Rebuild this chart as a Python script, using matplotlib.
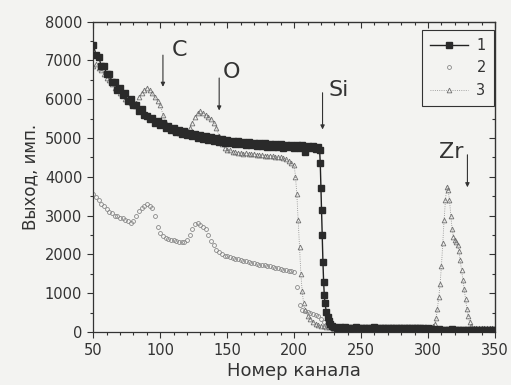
import matplotlib
matplotlib.use("Agg")
import matplotlib.pyplot as plt
import numpy as np

# series 1: squares + line (drops at Si edge)
ch1 = list(range(50, 219, 2)) + [219, 219.5, 220, 220.5, 221, 221.5, 222, 222.5, 223, 224, 225, 226, 227, 228] + list(range(230, 351, 2))
y1 = [7400, 7150, 7100, 6850, 6850, 6650, 6650, 6450, 6450, 6250, 6300, 6100, 6150, 5950, 6000, 5850, 5850,
      5700, 5750, 5600, 5580, 5480, 5520, 5400, 5430, 5330, 5380, 5250, 5300, 5200, 5250, 5150, 5200, 5100,
      5180, 5080, 5140, 5050, 5100, 5000, 5080, 4980, 5050, 4950, 5020, 4930, 4990, 4900, 4970, 4880, 4950,
      4870, 4930, 4850, 4920, 4840, 4900, 4830, 4890, 4820, 4880, 4800, 4870, 4790, 4860, 4780, 4850, 4770,
      4840, 4760, 4840, 4750, 4830, 4760, 4820, 4750, 4820, 4740, 4810, 4650, 4800, 4740, 4800, 4730, 4780,
      4700, 4350, 3700, 3150, 2500, 1800, 1300, 950, 750, 520, 380, 280, 200, 150,
      120, 110, 130, 100, 120, 90, 110, 100, 120, 95, 110, 100, 90, 110, 100, 120, 95, 105, 90, 110,
      100, 95, 110, 90, 100, 105, 95, 110, 90, 100, 95, 105, 90, 100, 80, 90, 70, 80, 60, 70,
      60, 50, 60, 50, 70, 50, 60, 50, 60, 55, 50, 60, 50, 55, 60, 50, 55, 50, 60, 50, 55]

# series 2: small circles (lower curve)
ch2 = list(range(50, 351, 2))
y2 = [3550, 3480, 3400, 3300, 3260, 3180, 3100, 3060, 3000, 2990, 2950, 2930, 2900, 2870, 2820, 2850, 2980,
      3120, 3200, 3260, 3290, 3250, 3200, 3000, 2700, 2550, 2480, 2420, 2400, 2380, 2360, 2350, 2330, 2320,
      2330, 2380, 2500, 2650, 2780, 2800, 2760, 2700, 2650, 2500, 2350, 2250, 2120, 2050, 2000, 1970, 1950,
      1930, 1900, 1880, 1870, 1850, 1830, 1820, 1800, 1790, 1770, 1760, 1740, 1730, 1720, 1700, 1690, 1670,
      1660, 1640, 1630, 1610, 1600, 1580, 1570, 1550, 1150, 700, 560, 530, 510, 490, 470, 440, 400, 330, 250,
      180, 120, 80, 50, 40, 45, 35, 40, 45, 40, 35, 40, 45, 40, 35, 40, 40, 45, 35, 40, 45, 40, 35, 40, 45,
      40, 35, 40, 45, 40, 35, 40, 45, 40, 35, 40, 45, 40, 35, 40, 45, 40, 35, 40, 45, 40, 35, 40, 45, 40,
      35, 40, 45, 40, 35, 40, 45, 40, 35, 40, 45, 40, 35, 40]

# series 3: triangles (C, O, Zr peaks)
ch3 = list(range(50, 201, 2)) + [201, 202, 203, 204, 205, 206, 207, 208] + list(range(210, 305, 2)) + \
      list(range(305, 333)) + list(range(334, 351, 2))
y3 = [6850, 6900, 6800, 6750, 6650, 6550, 6500, 6400, 6300, 6250, 6150, 6100, 6000, 5950, 5900, 5850, 5900,
      6050, 6150, 6250, 6300, 6250, 6150, 6050, 5950, 5850, 5600, 5400, 5250, 5200, 5180, 5150, 5120, 5100,
      5100, 5120, 5250, 5400, 5550, 5650, 5700, 5650, 5600, 5550, 5500, 5400, 5250, 5050, 4850, 4750, 4700,
      4680, 4650, 4640, 4620, 4620, 4600, 4610, 4590, 4580, 4600, 4570, 4560, 4570, 4550, 4540, 4550, 4530,
      4520, 4500, 4500, 4480, 4450, 4400, 4350, 4300,
      4000, 3550, 2900, 2200, 1500, 1050, 750, 560,
      420, 330, 260, 210, 180, 160, 150, 140, 130, 140, 120, 130, 140, 125, 135, 120, 130, 140, 125, 130,
      140, 120, 135, 130, 125, 140, 130, 120, 135, 130, 140, 125, 130, 135, 120, 130, 140, 125, 130, 135,
      120, 140, 130, 125, 135, 130, 140, 150,
      200, 350, 600, 900, 1250, 1700, 2300, 2900, 3400, 3750, 3650, 3400, 3000, 2650, 2450, 2380, 2330,
      2250, 2100, 1850, 1600, 1350, 1100, 850, 600, 400, 250, 150,
      110, 100, 90, 100, 95, 90, 100, 95, 90]

plt.rcParams["font.family"] = ["DejaVu Sans"]
fig = plt.figure(figsize=(5.11, 3.85), dpi=100)
bg = "#f3f3f1"
fig.patch.set_facecolor(bg)
ax = fig.add_axes([0.1826, 0.1377, 0.7861, 0.8059])
ax.set_facecolor(bg)
ink = "#333333"

ax.plot(ch3, y3, ls=":", lw=0.6, color="#888888", marker="^", ms=3.4, mfc="none", mec="#707070",
        mew=0.6, label="3", zorder=2)
ax.plot(ch2, y2, ls="none", marker="o", ms=2.8, mfc="none", mec="#888888", mew=0.6, label="2", zorder=2)
ax.plot(ch1, y1, ls="-", lw=1.0, color="#222222", marker="s", ms=4, mfc="#2a2a2a", mec="#2a2a2a",
        label="1", zorder=3)

ax.set_xlim(50, 350)
ax.set_ylim(0, 8000)
ax.set_xticks(range(50, 351, 50))
ax.set_xticks(range(50, 351, 10), minor=True)
ax.set_yticks(range(0, 8001, 1000))
ax.set_yticks(range(0, 8001, 500), minor=True)
ax.tick_params(which="both", direction="out", colors=ink, labelsize=10.5, width=0.8)
ax.tick_params(which="major", length=4.5)
ax.tick_params(which="minor", length=2.5)
for s in ax.spines.values():
    s.set_color(ink)
    s.set_linewidth(0.9)

top = ax.secondary_xaxis("top")
top.set_xticks(range(50, 351, 50))
top.set_xticks(range(50, 351, 10), minor=True)
top.tick_params(which="both", direction="in", labeltop=False, colors=ink, width=0.8)
top.tick_params(which="major", length=4.5)
top.tick_params(which="minor", length=2.5)
right = ax.secondary_yaxis("right")
right.set_yticks(range(0, 8001, 1000))
right.set_yticks(range(0, 8001, 500), minor=True)
right.tick_params(which="both", direction="in", labelright=False, colors=ink, width=0.8)
right.tick_params(which="major", length=4.5)
right.tick_params(which="minor", length=2.5)

ax.set_xlabel("Номер канала", fontsize=13, color=ink, labelpad=3)
ax.set_ylabel("Выход, имп.", fontsize=12, color=ink, labelpad=4)

# element labels with arrows
arrow = dict(arrowstyle="-|>", color=ink, lw=0.8, mutation_scale=6)
ax.annotate("", xy=(102, 6250), xytext=(102, 7210), arrowprops=arrow)
ax.text(114, 7270, "C", fontsize=16, ha="center", va="center", color=ink)
ax.annotate("", xy=(144, 5640), xytext=(144, 6620), arrowprops=arrow)
ax.text(153.5, 6700, "O", fontsize=16, ha="center", va="center", color=ink)
ax.annotate("", xy=(221.2, 5150), xytext=(221.2, 6240), arrowprops=arrow)
ax.text(233, 6240, "Si", fontsize=16, ha="center", va="center", color=ink)
ax.annotate("", xy=(329.4, 3660), xytext=(329.4, 4640), arrowprops=arrow)
ax.text(317.5, 4650, "Zr", fontsize=16, ha="center", va="center", color=ink)

h, l = ax.get_legend_handles_labels()
leg = ax.legend(h[::-1], l[::-1], loc="upper right", bbox_to_anchor=(0.997, 0.973), borderaxespad=0,
                fontsize=10.5, frameon=True, fancybox=False, edgecolor=ink, facecolor=bg, framealpha=1,
                handlelength=2.6, labelspacing=0.5, borderpad=0.55, handletextpad=0.6, numpoints=1)
leg.get_frame().set_linewidth(0.8)
for t in leg.get_texts():
    t.set_color(ink)

fig.savefig("out.png", dpi=100, facecolor=bg)
